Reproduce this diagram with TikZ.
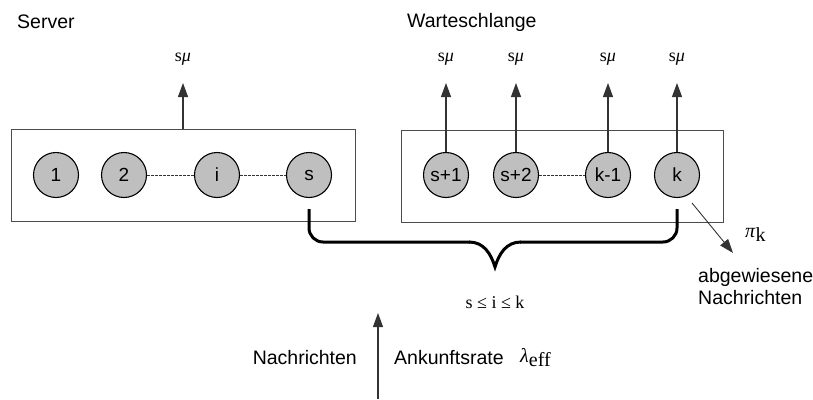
\documentclass[tikz,border=0pt]{standalone}
\usepackage{fontspec}
\setmainfont{Liberation Sans}
\newfontfamily\serifx{Liberation Serif}
\usetikzlibrary{arrows.meta,calc}
\tikzset{
  box/.style={draw=black!70, line width=0.8pt, minimum height=92pt, inner sep=0pt},
  srvc/.style={circle, draw=black, line width=1.1pt, fill=black!25, minimum size=45pt, inner sep=0pt, font=\fontsize{19}{21}\selectfont},
  flow/.style={draw=black!80, line width=1.1pt, -{Triangle[length=14pt,width=10pt]}},
  dots/.style={draw=black!80, line width=0.8pt, dash pattern=on 2.5pt off 1.5pt},
  brace/.style={draw=black, line width=3pt, rounded corners=14pt},
  lbl/.style={font=\fontsize{19.5}{22}\selectfont, inner sep=0pt},
  mlbl/.style={font=\serifx\fontsize{18}{20}\selectfont, inner sep=0pt}
}
\begin{document}
\begin{tikzpicture}[x=1pt,y=-1pt]
\useasboundingbox (0,0) rectangle (813,399);
% titles
\node[lbl, anchor=west] (tserver) at (17,22) {Server};
\node[lbl, anchor=west] (twait) at (407,22) {Warteschlange};
% boxes
\node[box, minimum width=344pt] (srv) at (183,175) {};
\node[box, minimum width=322pt] (que) at (562,176) {};
% circles
\node[srvc] (c1) at (56,175) {1};
\node[srvc] (c2) at (124,175) {2};
\node[srvc] (ci) at (217,175) {i};
\node[srvc] (cs) at (309,175) {s};
\node[srvc] (cs1) at (446,175) {s+1};
\node[srvc] (cs2) at (516,175) {s+2};
\node[srvc] (ck1) at (608,175) {k-1};
\node[srvc] (ck) at (677,175) {k};
% dashed links
\draw[dots] (c2) -- (ci);
\draw[dots] (ci) -- (cs);
\draw[dots] (cs2) -- (ck1);
% output arrows
\coordinate (o0) at (183,83);
\coordinate (o1) at (446,83);
\coordinate (o2) at (516,83);
\coordinate (o3) at (608,83);
\coordinate (o4) at (677,83);
\draw[flow] (srv.north) -- (o0);
\draw[flow] (cs1.north) -- (o1);
\draw[flow] (cs2.north) -- (o2);
\draw[flow] (ck1.north) -- (o3);
\draw[flow] (ck.north) -- (o4);
\foreach \c/\n in {o0/m0,o1/m1,o2/m2,o3/m3,o4/m4}
  \node[mlbl] (\n) at ($(\c)+(0,-24)$) {s\textit{μ}};
% brace
\coordinate (bl) at ($(cs.south)+(0,11)$);
\coordinate (br) at ($(ck.south)+(0,11)$);
\coordinate (btip) at (495,267);
\draw[brace] (bl) -- (309,242) -- (470,242);
\draw[brace] (br) -- (677,242) -- (520,242);
\draw[draw=black, line width=3pt] (469,242) .. controls (484,242) and (491,254) .. (btip)
  .. controls (499,254) and (506,242) .. (521,242);
\node[mlbl] (range) at (495,302) {s ≤ i ≤ k};
% arrival arrow
\coordinate (ain) at (378,399);
\coordinate (aout) at (378,313);
\draw[flow] (ain) -- (aout);
\node[lbl, anchor=east] (nach) at (357,358) {Nachrichten};
\node[lbl, anchor=west] (ank) at (394,358) {Ankunftsrate};
\node[mlbl, anchor=west, font=\serifx\fontsize{20}{22}\selectfont] (lam) at (520,358) {\textit{λ}\raisebox{-4pt}{eff}};
% rejected
\coordinate (r0) at (692,203);
\coordinate (r1) at (733,253);
\draw[flow, line width=0.9pt] (r0) -- (r1);
\node[mlbl, anchor=west, font=\serifx\fontsize{20}{22}\selectfont] (pik) at (745,235) {\textit{π}\raisebox{-4pt}{k}};
\node[lbl, anchor=north west, align=left, font=\fontsize{19.5}{22}\selectfont] (rej) at (698,268) {abgewiesene\\Nachrichten};
\end{tikzpicture}
\end{document}
